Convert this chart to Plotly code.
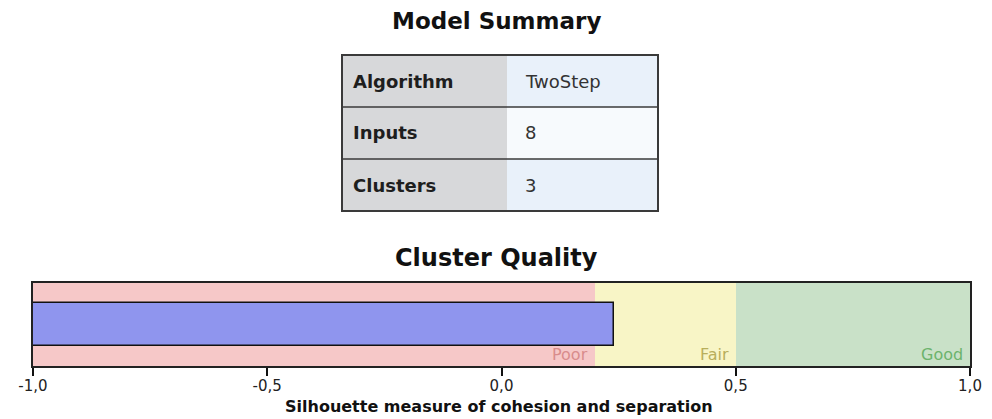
import plotly.graph_objects as go

# The page body has an 8px margin, so the figure is offset by 8px.
OFF = 8
W, H = 992 - OFF, 419 - OFF

# Data
summary_labels = ["Algorithm", "Inputs", "Clusters"]
summary_values = ["TwoStep", "8", "3"]

band_names = ["Poor", "Fair", "Good"]
band_start = [-1.0, 0.2, 0.5]
band_end = [0.2, 0.5, 1.0]
band_colors = ["#f6c8c8", "#f8f5c6", "#c9e1c8"]
band_text_colors = ["#d98c8c", "#b8ae5c", "#6cb36c"]

silhouette = 0.24
tick_vals = [-1.0, -0.5, 0.0, 0.5, 1.0]
tick_text = ["-1,0", "-0,5", "0,0", "0,5", "1,0"]

FONT = "DejaVu Sans, Verdana, Arial"

def px_x(p):
    return (p - OFF) / W

def px_y(p):
    return 1 - (p - OFF) / H

fig = go.Figure()

# ---- Summary table (layout shapes + text) ----
tbl_x0, tbl_xm, tbl_x1 = 342, 507, 658
tbl_y0, row_h = 55, 52
label_fill = "#d7d8da"
value_fills = ["#e9f1fa", "#f7fafd", "#e9f1fa"]
for i, (lab, val) in enumerate(zip(summary_labels, summary_values)):
    y0 = tbl_y0 + i * row_h
    y1 = y0 + row_h
    fig.add_shape(type="rect", xref="paper", yref="paper",
                  x0=px_x(tbl_x0), x1=px_x(tbl_xm), y0=px_y(y1), y1=px_y(y0),
                  fillcolor=label_fill, line=dict(width=0), layer="below")
    fig.add_shape(type="rect", xref="paper", yref="paper",
                  x0=px_x(tbl_xm), x1=px_x(tbl_x1), y0=px_y(y1), y1=px_y(y0),
                  fillcolor=value_fills[i], line=dict(width=0), layer="below")
    if i > 0:
        fig.add_shape(type="line", xref="paper", yref="paper",
                      x0=px_x(tbl_x0), x1=px_x(tbl_x1), y0=px_y(y0), y1=px_y(y0),
                      line=dict(color="#3a3a3a", width=1.5))
    fig.add_annotation(x=px_x(tbl_x0 + 9), y=px_y((y0 + y1) / 2), xref="paper", yref="paper",
                       text="<b>" + lab + "</b>", showarrow=False, xanchor="left", yanchor="middle",
                       font=dict(family=FONT, size=18, color="#1e1e1e"))
    fig.add_annotation(x=px_x(tbl_xm + 16), y=px_y((y0 + y1) / 2), xref="paper", yref="paper",
                       text=val, showarrow=False, xanchor="left", yanchor="middle",
                       font=dict(family=FONT, size=18, color="#333333"))
fig.add_shape(type="rect", xref="paper", yref="paper",
              x0=px_x(tbl_x0), x1=px_x(tbl_x1),
              y0=px_y(tbl_y0 + 3 * row_h), y1=px_y(tbl_y0),
              line=dict(color="#3a3a3a", width=2), fillcolor="rgba(0,0,0,0)")

# ---- Cluster quality ----
for name, s, e, c in zip(band_names, band_start, band_end, band_colors):
    fig.add_trace(go.Bar(
        y=[0], x=[e - s], base=[s], orientation="h", width=1.0,
        marker=dict(color=c, line=dict(width=0)), showlegend=False,
        hoverinfo="skip",
    ))

fig.add_trace(go.Bar(
    y=[0], x=[silhouette + 1.0], base=[-1.0], orientation="h", width=0.52,
    marker=dict(color="#8f95ee", line=dict(color="#111111", width=1.5)),
    showlegend=False,
))

for name, e, tc in zip(band_names, band_end, band_text_colors):
    fig.add_annotation(x=e, y=-0.5, xref="x", yref="y", text=name,
                       showarrow=False, xanchor="right", yanchor="bottom",
                       xshift=-5, yshift=0,
                       font=dict(family=FONT, size=16, color=tc))

fig.add_annotation(x=0.5 * (px_x(0) + px_x(992)), y=1.0, xref="paper", yref="paper",
                   text="<b>Model Summary</b>", showarrow=False, yanchor="top",
                   borderpad=0, yshift=1,
                   font=dict(family=FONT, size=23, color="#111111"))
fig.add_annotation(x=0.5 * (px_x(0) + px_x(992)), y=px_y(258), xref="paper", yref="paper",
                   text="<b>Cluster Quality</b>", showarrow=False, yanchor="middle",
                   font=dict(family=FONT, size=24, color="#111111"))
fig.add_annotation(x=px_x(499), y=px_y(406), xref="paper", yref="paper",
                   text="<b>Silhouette measure of cohesion and separation</b>",
                   showarrow=False, yanchor="middle", borderpad=0,
                   font=dict(family=FONT, size=16, color="#111111"))

fig.update_layout(
    width=W, height=H,
    margin=dict(l=0, r=0, t=0, b=0),
    paper_bgcolor="white", plot_bgcolor="white",
    barmode="overlay", bargap=0,
    xaxis=dict(domain=[px_x(33), px_x(970)], range=[-1, 1], automargin=False,
               tickvals=tick_vals, ticktext=tick_text,
               ticks="outside", ticklen=8, tickwidth=1.5, tickcolor="#111111",
               ticklabelstandoff=-3,
               showline=True, linecolor="#222222", linewidth=1.5, mirror=True,
               showgrid=False, zeroline=False,
               tickfont=dict(family=FONT, size=15, color="#222222")),
    yaxis=dict(domain=[px_y(366), px_y(283)], range=[-0.5, 0.5], automargin=False,
               showticklabels=False, ticks="", showgrid=False, zeroline=False,
               showline=True, linecolor="#222222", linewidth=1.5, mirror=True,
               fixedrange=True),
)

fig.write_html("out.html")
